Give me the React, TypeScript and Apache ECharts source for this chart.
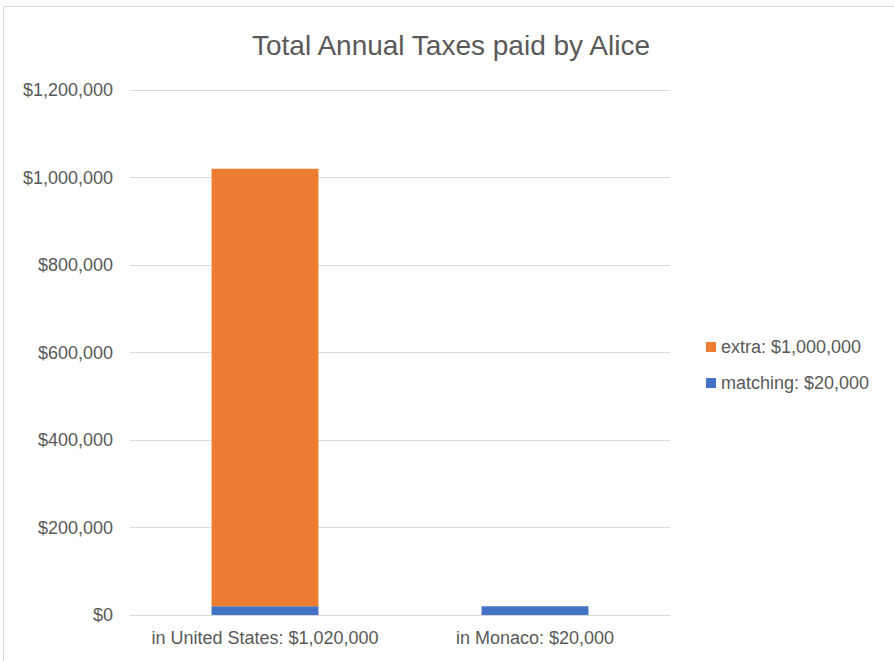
import React, { useEffect, useRef } from "react";
import * as echarts from "echarts";

const categories = ["in United States: $1,020,000", "in Monaco: $20,000"];
const matchingValues = [20000, 20000];
const extraValues = [1000000, 0];
const seriesNames = ["extra: $1,000,000", "matching: $20,000"];

const fmt = (v: number) => "$" + v.toLocaleString("en-US");

export default function App() {
  const ref = useRef<HTMLDivElement>(null);
  useEffect(() => {
    if (!ref.current) return;
    const chart = echarts.init(ref.current, null, { renderer: "svg" });
    const font = "Liberation Sans";
    chart.setOption({
      animation: false,
      textStyle: { fontFamily: font },
      title: {
        text: "Total Annual Taxes paid by Alice",
        left: 446,
        textAlign: "center",
        top: 26,
        textStyle: { fontFamily: font, fontSize: 28, fontWeight: "normal", color: "#595959" },
      },
      legend: {
        orient: "vertical",
        left: 701,
        top: 333,
        itemWidth: 10,
        itemHeight: 10,
        itemGap: 18,
        icon: "rect",
        data: [seriesNames[0], seriesNames[1]],
        textStyle: { fontFamily: font, fontSize: 18, color: "#595959" },
      },
      grid: { left: 130, right: 224, top: 90, bottom: 46 },
      xAxis: {
        type: "category",
        data: categories,
        axisLine: { lineStyle: { color: "#d9d9d9", width: 1 } },
        axisTick: { show: false },
        axisLabel: { interval: 0, hideOverlap: false, fontFamily: font, fontSize: 18, color: "#595959", margin: 14 },
      },
      yAxis: {
        type: "value",
        min: 0,
        max: 1200000,
        interval: 200000,
        axisLine: { show: false },
        axisTick: { show: false },
        splitLine: { lineStyle: { color: "#d9d9d9", width: 1 } },
        axisLabel: { fontFamily: font, fontSize: 18, color: "#595959", margin: 17, formatter: fmt },
      },
      series: [
        {
          name: seriesNames[1],
          type: "bar",
          stack: "total",
          data: matchingValues,
          barWidth: "39.6%",
          itemStyle: { color: "#4472C4" },
        },
        {
          name: seriesNames[0],
          type: "bar",
          stack: "total",
          data: extraValues,
          barWidth: "39.6%",
          itemStyle: { color: "#ED7D31" },
        },
      ],
    });
    return () => chart.dispose();
  }, []);
  return (
    <div style={{ position: "absolute", left: 0, top: 0, width: 894, height: 661, background: "#fff", overflow: "hidden" }}>
      <div
        style={{
          position: "absolute",
          left: 3,
          top: 6,
          width: 1000,
          height: 1000,
          borderLeft: "1px solid #d9d9d9",
          borderTop: "1px solid #d9d9d9",
        }}
      />
      <div ref={ref} style={{ position: "absolute", left: 0, top: 0, width: 894, height: 661 }} />
    </div>
  );
}
